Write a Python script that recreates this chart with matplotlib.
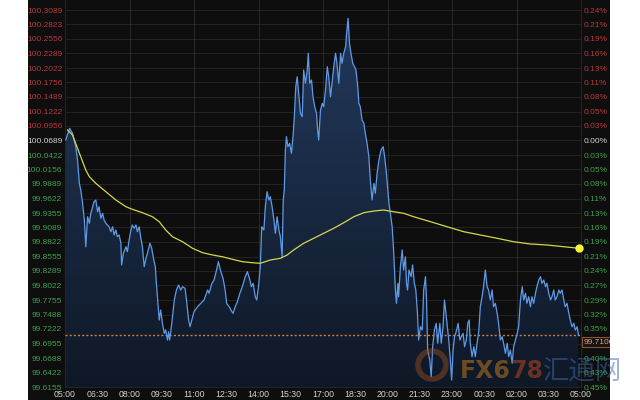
import matplotlib
matplotlib.use("Agg")
import matplotlib.pyplot as plt
import numpy as np
from matplotlib.patches import Rectangle, Circle
from matplotlib.colors import LinearSegmentedColormap

# ---------------- data ----------------
x_labels = ["05:00", "06:30", "08:00", "09:30", "11:00", "12:30", "14:00", "15:30", "17:00",
            "18:30", "20:00", "21:30", "23:00", "00:30", "02:00", "03:30", "05:00"]
y_ticks = [100.3089, 100.2823, 100.2556, 100.2289, 100.2022, 100.1756, 100.1489, 100.1222,
           100.0956, 100.0689, 100.0422, 100.0156, 99.9889, 99.9622, 99.9355, 99.9089,
           99.8822, 99.8555, 99.8289, 99.8022, 99.7755, 99.7488, 99.7222, 99.6955,
           99.6688, 99.6422, 99.6155]
pct_labels = ["0.24%", "0.21%", "0.19%", "0.16%", "0.13%", "0.11%", "0.08%", "0.05%", "0.03%",
              "0.00%", "0.03%", "0.05%", "0.08%", "0.11%", "0.13%", "0.16%", "0.19%", "0.21%",
              "0.24%", "0.27%", "0.29%", "0.32%", "0.35%", "0.37%", "0.40%", "0.43%", "0.45%"]
base_price = 100.0689
last_price = 99.7106

# minutes after 05:00
price_min = [2, 13, 21, 30, 35, 40, 44, 49, 54, 58, 63, 68, 72, 77, 81, 86, 91, 95, 100, 105,
             109, 114, 123, 128, 133, 137, 142, 146, 151, 156, 158, 163, 170, 174, 179, 184,
             188, 193, 198, 202, 207, 211, 216, 221, 225, 230, 237, 242, 246, 252, 255, 258,
             263, 267, 272, 277, 281, 286, 289, 292, 298, 305, 311, 317, 323, 328, 335, 339,
             345, 349, 354, 360, 370, 379, 388, 398, 402, 410, 416, 423, 428, 435, 441, 447,
             451, 458, 463, 469, 475, 481, 488, 495, 503, 509, 516, 520, 525, 531, 535, 540,
             545, 549, 555, 559, 564, 569, 573, 578, 583, 587, 592, 597, 601, 606, 609, 612,
             615, 618, 622, 627, 632, 637, 640, 644, 648, 652, 657, 662, 666, 671, 676, 679,
             683, 688, 692, 697, 702, 705, 708, 713, 718, 722, 727, 732, 736, 741, 745, 750,
             755, 759, 764, 769, 773, 778, 783, 785, 790, 794, 798, 803, 808, 812, 817, 820,
             824, 829, 834, 838, 843, 848, 852, 857, 862, 866, 871, 876, 882, 888, 892, 897,
             901, 904, 908, 913, 917, 922, 925, 929, 931, 936, 941, 945, 950, 953, 956, 960,
             966, 970, 975, 979, 983, 987, 992, 997, 1001, 1006, 1009, 1012, 1018, 1022, 1026,
             1031, 1036, 1040, 1046, 1050, 1055, 1059, 1062, 1066, 1071, 1076, 1079, 1083,
             1087, 1093, 1097, 1102, 1106, 1111, 1115, 1120, 1124, 1128, 1131, 1136, 1141,
             1145, 1150, 1155, 1159, 1164, 1168, 1173, 1178, 1182, 1187, 1192, 1196, 1201,
             1206, 1210, 1215, 1220, 1224, 1229, 1234, 1238, 1243, 1248, 1252, 1257, 1262,
             1266, 1271, 1276, 1280, 1285, 1289, 1294, 1299, 1303, 1308, 1313, 1317, 1322,
             1327, 1331, 1336, 1341, 1345, 1350, 1355, 1359, 1364, 1368, 1373, 1378, 1382,
             1387, 1392, 1396, 1401, 1406, 1410, 1415, 1420, 1424, 1429, 1433]
price = [100.0698, 100.0913, 100.0821, 100.0575, 100.0330, 99.9901, 99.9778, 99.9539, 99.9226,
         99.8735, 99.9287, 99.9166, 99.9350, 99.9471, 99.9563, 99.9594, 99.9379, 99.9471,
         99.9258, 99.9350, 99.9226, 99.9166, 99.9103, 99.9011, 99.9103, 99.8951, 99.9043,
         99.8919, 99.8951, 99.8798, 99.8399, 99.8614, 99.8735, 99.8643, 99.8859, 99.9043,
         99.9135, 99.9074, 99.9135, 99.9011, 99.9103, 99.8919, 99.8735, 99.8368, 99.8491,
         99.8614, 99.8798, 99.8706, 99.8551, 99.8368, 99.8062, 99.7816, 99.7387, 99.7571,
         99.7326, 99.7142, 99.7203, 99.7019, 99.7172, 99.7019, 99.7326, 99.7755, 99.7939,
         99.8031, 99.7939, 99.8000, 99.7970, 99.7755, 99.7387, 99.7264, 99.7387, 99.7540,
         99.7632, 99.7694, 99.7755, 99.7939, 99.7878, 99.8062, 99.8123, 99.8307, 99.8460,
         99.8276, 99.8154, 99.7939, 99.7694, 99.7632, 99.7571, 99.7510, 99.7632, 99.7724,
         99.7878, 99.8000, 99.8184, 99.8276, 99.8123, 99.8000, 99.8062, 99.7816, 99.7755,
         99.8000, 99.8368, 99.9103, 99.9043, 99.9471, 99.9747, 99.9594, 99.9655, 99.9471,
         99.9226, 99.8982, 99.9287, 99.9043, 99.8919, 99.8551, 99.9594, 99.9778, 100.0514,
         100.0759, 100.0575, 100.0637, 100.0453, 100.0821, 100.1126, 100.1678, 100.1862,
         100.1557, 100.1189, 100.1126, 100.1985, 100.1741, 100.1985, 100.2293, 100.1741,
         100.1801, 100.1494, 100.1310, 100.1189, 100.0882, 100.0698, 100.1250, 100.1373,
         100.1310, 100.1618, 100.2046, 100.1862, 100.1494, 100.1741, 100.2046, 100.2293,
         100.2109, 100.1741, 100.2293, 100.2109, 100.2293, 100.2414, 100.2598, 100.2936,
         100.2477, 100.2293, 100.2109, 100.2046, 100.1985, 100.1678, 100.1373, 100.1310,
         100.1066, 100.1005, 100.0821, 100.0637, 100.0391, 99.9962, 99.9594, 99.9901, 99.9718,
         100.0085, 100.0330, 100.0514, 100.0575, 100.0391, 100.0085, 99.9778, 99.9534,
         99.9350, 99.9103, 99.8675, 99.7939, 99.7694, 99.8062, 99.7816, 99.8368, 99.8675,
         99.8307, 99.8551, 99.8062, 99.7939, 99.8307, 99.8184, 99.8399, 99.8062, 99.7939,
         99.7571, 99.7019, 99.7264, 99.7203, 99.7939, 99.8184, 99.7755, 99.6835, 99.6651,
         99.6344, 99.6896, 99.7203, 99.7326, 99.6959, 99.7326, 99.6959, 99.7264, 99.7755,
         99.7571, 99.7326, 99.7019, 99.6591, 99.6284, 99.6835, 99.7080, 99.7203, 99.7326,
         99.7019, 99.7080, 99.7142, 99.6896, 99.7019, 99.7326, 99.7387, 99.6959, 99.6712,
         99.6896, 99.6712, 99.6959, 99.7203, 99.7632, 99.7816, 99.8000, 99.8307, 99.8000,
         99.7939, 99.7755, 99.7939, 99.7632, 99.7694, 99.7510, 99.7326, 99.7019, 99.7080,
         99.6959, 99.6775, 99.6959, 99.6712, 99.6835, 99.6591, 99.6896, 99.7019, 99.7142,
         99.7264, 99.7755, 99.8000, 99.7755, 99.7878, 99.7694, 99.7816, 99.7632, 99.7816,
         99.7694, 99.7878, 99.8000, 99.8123, 99.8184, 99.8062, 99.8123, 99.8000, 99.8062,
         99.7878, 99.7755, 99.7816, 99.7939, 99.7755, 99.7816, 99.7939, 99.7878, 99.7939,
         99.7755, 99.7632, 99.7694, 99.7510, 99.7387, 99.7264, 99.7326, 99.7203, 99.7264,
         99.7106]

ma_min = [7, 21, 40, 58, 68, 86, 114, 142, 170, 188, 216, 244, 263, 281, 300, 328, 356, 384,
          412, 439, 467, 495, 523, 545, 573, 601, 620, 638, 666, 694, 722, 750, 778, 806, 834,
          862, 889, 917, 945, 973, 1020, 1066, 1113, 1159, 1206, 1252, 1299, 1345, 1392, 1435]
ma_price = [100.0882, 100.0790, 100.0459, 100.0146, 100.0023, 99.9901, 99.9747, 99.9594,
            99.9471, 99.9423, 99.9361, 99.9287, 99.9195, 99.9043, 99.8919, 99.8827, 99.8706,
            99.8625, 99.8583, 99.8551, 99.8504, 99.8460, 99.8441, 99.8430, 99.8491, 99.8522,
            99.8583, 99.8675, 99.8798, 99.8890, 99.8982, 99.9074, 99.9177, 99.9287, 99.9361,
            99.9392, 99.9410, 99.9379, 99.9350, 99.9287, 99.9195, 99.9103, 99.9011, 99.8951,
            99.8890, 99.8827, 99.8785, 99.8767, 99.8735, 99.8706]

# ---------------- style ----------------
BG = "#0e0e0e"
GRID = "#262626"
RED = "#b8373c"
GREEN = "#3f9f4a"
WHITE = "#d2d2d2"
FONT = ["Liberation Sans", "DejaVu Sans"]

fig = plt.figure(figsize=(6.4, 4.0), dpi=100, facecolor="white")
bg = Rectangle((28 / 640, 0), (610 - 28) / 640, 1, transform=fig.transFigure,
               facecolor=BG, edgecolor="none", zorder=-10)
fig.patches.append(bg)

ax = fig.add_axes([65 / 640, 13 / 400, 516 / 640, 387 / 400])
ax.set_facecolor(BG)
ylo, yhi = 99.6155, 100.3273

# grid
for v in y_ticks:
    ax.axhline(v, color=GRID, lw=0.6, zorder=1)
for xv in np.arange(0, 1441, 180)[1:-1]:
    ax.axvline(xv, color="#2e2e2e", lw=0.6, zorder=1)

t = np.array(price_min, dtype=float)
p = np.array(price)

# gradient fill under price
poly = ax.fill_between(t, p, ylo, facecolor="none", edgecolor="none")
cmap = LinearSegmentedColormap.from_list("g", ["#0f1826", "#22395c"])
grad = np.linspace(0, 1, 256).reshape(-1, 1)
im = ax.imshow(grad, extent=[0, 1440, ylo, p.max()], origin="lower", aspect="auto",
               cmap=cmap, zorder=2)
path = poly.get_paths()[0]
im.set_clip_path(path, transform=ax.transData)
ax.set_xlim(0, 1440)
ax.set_ylim(ylo, yhi)

ax.plot(t, p, color="#5f9ae8", lw=0.9, zorder=4)
ax.plot(ma_min, ma_price, color="#d6d64c", lw=0.9, zorder=5)
ax.plot([ma_min[-1]], [ma_price[-1]], "o", color="#f5f53a", ms=5, zorder=6, clip_on=False)
ax.axhline(last_price, color="#d27a3c", lw=1.0, ls=(0, (1.5, 1.5)), zorder=3)

for s in ax.spines.values():
    s.set_color("#2a2a2a")
    s.set_linewidth(0.6)
ax.spines["top"].set_visible(False)

ax.set_xticks(np.linspace(0, 1440, len(x_labels)))
ax.set_xticklabels(x_labels, fontsize=6.3, color=WHITE, family=FONT)
ax.tick_params(axis="x", length=0, pad=2)

ax.set_yticks(y_ticks)
ax.set_yticklabels([f"{v:.4f}" for v in y_ticks], fontsize=6, family=FONT)
ax.tick_params(axis="y", length=0, pad=2)


def col(v):
    if abs(v - base_price) < 1e-6:
        return WHITE
    return RED if v > base_price else GREEN


for lab, v in zip(ax.get_yticklabels(), y_ticks):
    lab.set_color(col(v))

ax2 = ax.twinx()
ax2.set_ylim(ylo, yhi)
ax2.set_yticks(y_ticks)
ax2.set_yticklabels(pct_labels, fontsize=6, family=FONT)
ax2.tick_params(axis="y", length=0, pad=2)
for s in ax2.spines.values():
    s.set_visible(False)
for lab, v in zip(ax2.get_yticklabels(), y_ticks):
    lab.set_color(col(v))

# overlay in pixel units for the last-price tag
fig.canvas.draw()
ov = fig.add_axes([28 / 640, 0, (610 - 28) / 640, 1])
ov.set_zorder(5)
ov.set_xlim(28, 610)
ov.set_ylim(0, 400)
ov.axis("off")
ov.patch.set_visible(False)
yp = ax.transData.transform((0, last_price))[1]
ov.add_patch(Rectangle((582, yp - 12), 34, 10.5, facecolor="#141414", edgecolor="#8c5030",
                       lw=0.8, zorder=10, clip_on=True))
ov.text(584, yp - 6.8, f"{last_price:.4f}", fontsize=6, color="#e2a57c", family=FONT,
        va="center", ha="left", zorder=11, clip_on=True)

# watermark
ov.add_patch(Circle((432, 400 - 365), 14, facecolor="none", edgecolor="#9a4f1e", lw=4,
                    alpha=0.45, zorder=9, clip_on=False))
r = fig.canvas.get_renderer()
t1 = fig.text(460 / 640, 1 - 378 / 400, "FX6", fontsize=17, fontweight="bold",
              color="#8a5d22", alpha=0.75, family=["DejaVu Sans"], zorder=9)
bb = t1.get_window_extent(renderer=r)
fig.text(bb.x1 / 640, 1 - 378 / 400, "78", fontsize=17, fontweight="bold", color="#8a3a22",
         alpha=0.75, family=["DejaVu Sans"], zorder=9)
fig.text(543 / 640, 1 - 380 / 400, "汇通网", fontsize=19, color="#3f6aa8", alpha=0.5,
         family=["Noto Sans CJK SC", "DejaVu Sans"], zorder=9)

fig.savefig("out.png", dpi=100, facecolor="white")
